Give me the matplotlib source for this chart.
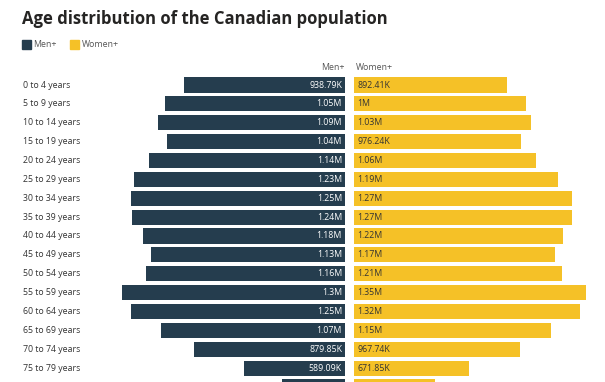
import matplotlib.pyplot as plt
from matplotlib.patches import Rectangle

categories = ["0 to 4 years", "5 to 9 years", "10 to 14 years", "15 to 19 years",
              "20 to 24 years", "25 to 29 years", "30 to 34 years", "35 to 39 years",
              "40 to 44 years", "45 to 49 years", "50 to 54 years", "55 to 59 years",
              "60 to 64 years", "65 to 69 years", "70 to 74 years", "75 to 79 years",
              "80 to 84 years"]
men = [938.79e3, 1.05e6, 1.09e6, 1.04e6, 1.14e6, 1.23e6, 1.25e6, 1.24e6,
       1.18e6, 1.13e6, 1.16e6, 1.30e6, 1.25e6, 1.07e6, 879.85e3, 589.09e3, 370e3]
women = [892.41e3, 1.00e6, 1.03e6, 976.24e3, 1.06e6, 1.19e6, 1.27e6, 1.27e6,
         1.22e6, 1.17e6, 1.21e6, 1.35e6, 1.32e6, 1.15e6, 967.74e3, 671.85e3, 470e3]
men_labels = ["938.79K", "1.05M", "1.09M", "1.04M", "1.14M", "1.23M", "1.25M", "1.24M",
              "1.18M", "1.13M", "1.16M", "1.3M", "1.25M", "1.07M", "879.85K", "589.09K"]
women_labels = ["892.41K", "1M", "1.03M", "976.24K", "1.06M", "1.19M", "1.27M", "1.27M",
                "1.22M", "1.17M", "1.21M", "1.35M", "1.32M", "1.15M", "967.74K", "671.85K"]

MEN_C = "#253d4e"
WOMEN_C = "#f5c127"
FONT = "Open Sans"

W, H = 605, 382
fig = plt.figure(figsize=(W / 100, H / 100), dpi=100)
ax = fig.add_axes([0, 0, 1, 1])

px_per_m = 171.5
center_px = 349.5
gap = 4.5 / px_per_m
ax.set_xlim(-center_px / px_per_m, (W - center_px) / px_per_m)
row0 = 85.0
step = 18.87
ax.set_ylim((H - row0) / step, -row0 / step)
ax.axis("off")

ys = list(range(len(categories)))
mv = [v / 1e6 for v in men]
wv = [v / 1e6 for v in women]
ax.barh(ys, [-v for v in mv], left=-gap, height=0.8, color=MEN_C)
ax.barh(ys, wv, left=gap, height=0.8, color=WOMEN_C)

# rows fully visible in the (cropped) view get their texts
lab_x = (23 - center_px) / px_per_m
for y, c, ml, wl in zip(ys, categories, men_labels, women_labels):
    ax.text(lab_x, y, c, ha="left", va="center", fontsize=6.3, color="#333333", family=FONT)
    ax.text(-gap - 3 / px_per_m, y, ml, ha="right", va="center", fontsize=6.3, color="white", family=FONT)
    ax.text(gap + 3 / px_per_m, y, wl, ha="left", va="center", fontsize=6.3, color="#333333", family=FONT)

hy = -18 / step
ax.text(-gap, hy, "Men+", ha="right", va="center", fontsize=6.3, color="#555555", family=FONT)
ax.text(gap + 2 / px_per_m, hy, "Women+", ha="left", va="center", fontsize=6.3, color="#555555", family=FONT)

# title and legend in figure pixel coordinates
fig.text(22 / W, 1 - 19 / H, "Age distribution of the Canadian population", ha="left", va="center",
         fontsize=12, fontweight="bold", color="#252423", family=FONT)
fig.patches.append(Rectangle((22 / W, 1 - 49 / H), 9 / W, 9 / H, transform=fig.transFigure,
                             color=MEN_C, figure=fig))
fig.text(33 / W, 1 - 44.5 / H, "Men+", ha="left", va="center", fontsize=6.3, color="#555555", family=FONT)
fig.patches.append(Rectangle((70 / W, 1 - 49 / H), 9 / W, 9 / H, transform=fig.transFigure,
                             color=WOMEN_C, figure=fig))
fig.text(82 / W, 1 - 44.5 / H, "Women+", ha="left", va="center", fontsize=6.3, color="#555555", family=FONT)

fig.savefig("out.png", dpi=100)
